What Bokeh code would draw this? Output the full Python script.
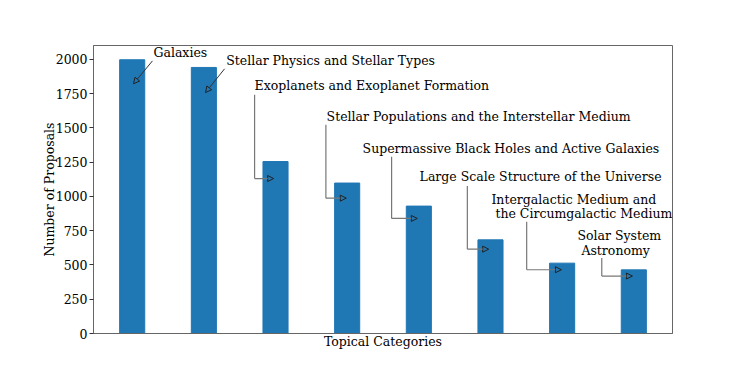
from bokeh.plotting import figure
from bokeh.models import Label, Arrow, NormalHead, FixedTicker
from bokeh.embed import file_html
from bokeh.resources import INLINE

# ---- data ----
categories = [
    "Galaxies",
    "Stellar Physics and Stellar Types",
    "Exoplanets and Exoplanet Formation",
    "Stellar Populations and the Interstellar Medium",
    "Supermassive Black Holes and Active Galaxies",
    "Large Scale Structure of the Universe",
    "Intergalactic Medium and\n the Circumgalactic Medium",
    "Solar System\n Astronomy",
]
proposals = [1996, 1940, 1254, 1097, 929, 683, 513, 464]
y_ticks = [0, 250, 500, 750, 1000, 1250, 1500, 1750, 2000]

# ---- annotation anchors (data coords) ----
text_x = [0.297, 1.312, 1.708, 2.713, 3.215, 4.011, 5.013, 6.213]
text_y = [2049, 1988, 1811, 1582, 1352, 1143, 980, 712]
arrow_style = ["straight", "straight", "angle", "angle", "angle", "angle", "angle", "angle"]
arrow_from_x = [0.283, 1.289, 1.708, 2.703, 3.620, 4.677, 5.505, 6.553]
arrow_from_y = [1988, 1930, 1741, 1522, 1288, 1075, 814, 550]
tip_x = [0.018, 1.023, 1.974, 2.988, 3.979, 4.975, 5.990, 6.981]
tip_y = [1821, 1757, 1130, 987, 839, 615, 465, 419]

FONT = "DejaVu Serif"
FS = "12.5px"

p = figure(width=740, height=366, x_range=(-0.54, 7.54), y_range=(0, 2100),
           output_backend="svg", toolbar_location=None,
           min_border_left=93, min_border_right=68, min_border_top=45, min_border_bottom=33)

xs = list(range(len(categories)))
p.vbar(x=xs, top=proposals, width=0.35, fill_color="#1f77b4", line_color="#1f77b4")

p.xgrid.visible = False
p.ygrid.visible = False
p.outline_line_color = "#666666"
p.outline_line_width = 1

yax = p.yaxis[0]
yax.ticker = FixedTicker(ticks=y_ticks)
yax.major_tick_out = 4
yax.major_tick_in = 0
yax.minor_tick_out = 0
yax.minor_tick_in = 0
yax.axis_line_color = "#666666"
yax.major_tick_line_color = "#333333"
yax.major_label_text_font = FONT
yax.major_label_text_font_size = FS
yax.major_label_text_color = "black"
yax.major_label_standoff = 2
yax.axis_label = "Number of Proposals"
yax.axis_label_text_font = FONT
yax.axis_label_text_font_size = FS
yax.axis_label_text_font_style = "normal"
yax.axis_label_text_color = "black"
yax.axis_label_standoff = -4

xax = p.xaxis[0]
xax.ticker = FixedTicker(ticks=[])
xax.major_tick_out = 0
xax.major_tick_in = 0
xax.minor_tick_out = 0
xax.axis_line_color = "#666666"
xax.axis_label = "Topical Categories"
xax.axis_label_text_font = FONT
xax.axis_label_text_font_size = FS
xax.axis_label_text_font_style = "normal"
xax.axis_label_text_color = "black"
xax.axis_label_standoff = 0

line_spacing = 105  # data units between text lines

for i, cat in enumerate(categories):
    for j, line in enumerate(cat.split("\n")):
        off = 4 if line.startswith(" ") else 0
        p.add_layout(Label(x=text_x[i], y=text_y[i] - j * line_spacing, text=line.strip(),
                           x_offset=off, text_font=FONT, text_font_size=FS,
                           text_color="black", text_align="left", text_baseline="middle"))
    head = NormalHead(size=6, fill_color=None, line_color="#222222", line_width=1)
    if arrow_style[i] == "straight":
        p.add_layout(Arrow(end=head, x_start=arrow_from_x[i], y_start=arrow_from_y[i],
                           x_end=tip_x[i], y_end=tip_y[i], line_color="#333333", line_width=1))
    else:
        p.segment(x0=[arrow_from_x[i]], y0=[arrow_from_y[i]], x1=[arrow_from_x[i]], y1=[tip_y[i]],
                  line_color="#777777", line_width=1.2)
        p.add_layout(Arrow(end=head, x_start=arrow_from_x[i], y_start=tip_y[i],
                           x_end=tip_x[i], y_end=tip_y[i], line_color="#777777", line_width=1.2))

open("out.html", "w").write(file_html(p, INLINE))
